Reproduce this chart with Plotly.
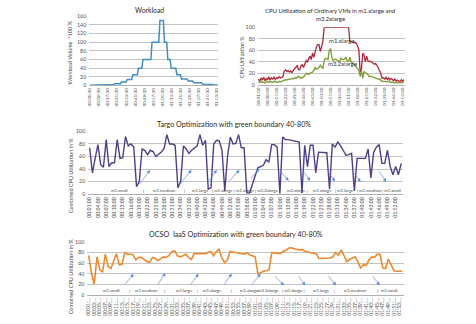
import plotly.graph_objects as go

FONT = "Lato"

times = [f"{m // 60:02d}:{m % 60:02d}:00" for m in range(1, 115)]

workload = [0.5, 0.5, 0.5, 0.5, 0.5, 0.5, 0.5,
            1, 1, 1, 1, 1, 1, 1, 1,
            2, 2, 2, 2, 2, 2, 2,
            4, 4, 4, 4, 4, 4,
            8, 8, 8, 8, 8,
            14, 14, 14, 14, 14,
            25, 25, 25, 25, 25,
            40, 40, 40, 40,
            60, 60, 60, 60, 60, 60, 60, 60,
            100, 100, 100, 100, 100, 100, 100,
            150, 150, 150, 150,
            100, 100, 100,
            60, 60, 60,
            40, 40, 40, 40, 40,
            25, 25, 25, 25,
            15, 15, 15, 15, 15, 15,
            10, 10, 10, 10, 10,
            6, 6, 6, 6, 6, 6, 6, 6,
            3, 3, 3, 3, 3,
            2, 2, 2, 2,
            1, 1, 1, 1, 1]

cpu_m1_xlarge = [10, 6, 12, 8, 13, 7, 11, 9, 14, 8, 12, 10, 13, 9, 12, 11, 14, 12, 13, 14,
                 24, 26, 23, 25, 22, 24, 21, 26,
                 28, 30, 34, 27, 26, 33, 35, 30,
                 38, 42, 40, 46, 50, 44, 55, 48,
                 58, 66, 70, 70, 58, 70, 75,
                 100, 100, 100, 100, 100, 100, 100, 100, 100, 100,
                 100, 100, 100, 100, 100, 100, 100, 100, 100, 100,
                 76, 75, 75, 73, 74, 72, 68, 60,
                 22, 28, 55, 52, 40, 50, 42, 40, 41, 40, 38, 36, 37, 34, 30, 24, 20,
                 11, 12, 10, 13, 9, 12, 8, 11, 9, 7, 10, 6, 8, 7, 5, 9, 6, 9]

cpu_m3_2xlarge = [5, 4, 6, 4, 5, 3, 6, 5, 4, 6, 5, 4, 6, 5, 5, 4, 6, 5, 6, 7,
                  8, 9, 8, 10, 9, 10, 11, 10, 12, 11,
                  13, 15, 12, 13, 12, 14,
                  16, 20, 19, 18, 20, 21, 22, 25,
                  30, 27, 28, 30, 34, 30, 28,
                  42, 46, 45, 44, 60, 63, 48,
                  42, 44, 45, 43, 41, 40, 46, 44, 44, 45, 48, 41,
                  41, 48, 40, 38, 37, 34, 31, 28,
                  25, 14, 25, 11, 23, 21, 20,
                  18, 14, 15, 14, 13, 12, 11, 11, 10, 10, 8, 6,
                  6, 6, 5, 6, 5, 5, 4, 5, 4, 3, 4, 3, 3, 4, 3, 4, 4]

targo = [74, 34, 57, 79, 47, 43, 87, 44, 50, 50, 87, 57, 58, 92, 77, 80, 75, 12, 20, 72,
         70, 63, 70, 68, 60, 64, 67, 73, 95, 80, 80, 78, 10, 20, 77, 72, 65, 70, 74, 77,
         95, 78, 86, 8, 10, 80, 86, 85, 70, 5, 60, 91, 80, 81, 95, 74, 74, 2, 2, 15,
         30, 42, 44, 46, 55, 51, 79, 79, 75, 1, 91, 87, 87, 86, 84, 83, 83, 2, 78, 44,
         78, 78, 34, 67, 67, 67, 66, 8, 80, 75, 83, 77, 70, 62, 63, 65, 5, 57, 57, 57,
         57, 72, 26, 67, 75, 79, 49, 49, 70, 44, 31, 44, 31, 49]

ocso = [75, 42, 21, 72, 48, 43, 77, 54, 50, 63, 78, 57, 58, 80, 77, 77, 76, 66, 71, 71,
        67, 63, 62, 71, 69, 65, 69, 72, 71, 75, 82, 83, 74, 72, 74, 77, 71, 67, 78, 78,
        78, 78, 78, 80, 82, 74, 82, 86, 70, 61, 66, 82, 81, 80, 80, 78, 77, 80, 76, 74,
        72, 40, 43, 45, 46, 48, 80, 80, 79, 78, 82, 84, 88, 89, 87, 86, 85, 86, 82, 81,
        80, 79, 78, 69, 69, 69, 69, 70, 72, 80, 75, 85, 75, 63, 67, 70, 72, 63, 51, 57,
        56, 66, 72, 71, 77, 77, 51, 50, 68, 57, 46, 45, 45, 45]

wl_ticks = times[0::8]
cpu_ticks = times[0::7]
targo_ticks = times[0::3]
ocso_ticks = times[0::2]
ocso_ticktext = [t[:6] + "..." for t in ocso_ticks]

targo_labels = ["m1.small", "|", "m1.medium", "|", "m1.large", "| m1.xlarge |", "m1.xlarge",
                "| m3.2xlarge |", "m3.xlarge |", "m1.xlarge", "| m1.large", "| m1.medium", "| m1.small"]
targo_label_x = [10.9, 19.6, 27.2, 34.4, 40.3, 48.5, 56.5, 64.5, 75.5, 84.5, 92.5, 101.5, 109.5]

ocso_labels = ["m1.small", "|", "m1.medium", "|", "m1.large", "|", "m1.xlarge", "|", "m1.xlarge",
               "|m3.2xlarge", "| m1.xlarge |", "m1.large", "|", "m1.medium", "|", "m1.small"]
ocso_label_x = [8.4, 14.8, 20.9, 27.5, 34.5, 39.4, 44.8, 51.4, 57.9, 64.9, 73.9, 83.9, 88.6, 96.3, 104.1, 108.3]

# arrows: (tail_x, tail_y, head_x, head_y) in category index / %
targo_arrows = [(17.7, 13.6, 21.9, 38.6), (32.1, 12.5, 36.9, 38.6), (42.3, 15, 46.1, 38.6),
                (50.1, 18, 54.3, 38.6), (57.9, 23, 61.5, 40),
                (68.6, 38.6, 72.2, 21.4), (77.1, 38.6, 80.0, 21.4), (86.0, 38.6, 89.0, 20.3),
                (95.0, 38.6, 98.3, 19.4), (104.6, 38.6, 107.6, 19.4)]
ocso_arrows = [(12.6, 17.3, 16.2, 39.9), (24.5, 17.3, 27.7, 41.7), (36.4, 17.3, 39.6, 40.4),
               (48.4, 17.3, 51.6, 40.4), (58.5, 18.4, 62.0, 40.4),
               (66.6, 38.6, 70.4, 18.4), (75.2, 38.6, 78.1, 18.4), (85.9, 38.6, 89.2, 18.4),
               (101.9, 38.6, 104.9, 18.4)]

W, H = 476, 324


def px_x(x0, x1):
    return [x0 / W, x1 / W]


def px_y(top, bottom):
    return [1 - bottom / H, 1 - top / H]


GRID = "#c4c4c4"
TXT = "#505050"

fig = go.Figure()
fig.add_trace(go.Scatter(x=times, y=workload, mode="lines", line=dict(color="#3f8fc2", width=1.5),
                         xaxis="x", yaxis="y"))
fig.add_trace(go.Scatter(x=times, y=cpu_m1_xlarge, mode="lines", line=dict(color="#b0283a", width=1.3),
                         xaxis="x2", yaxis="y2"))
fig.add_trace(go.Scatter(x=times, y=cpu_m3_2xlarge, mode="lines", line=dict(color="#7e9c32", width=1.3),
                         xaxis="x2", yaxis="y2"))
fig.add_trace(go.Scatter(x=times, y=targo, mode="lines", line=dict(color="#4e3f88", width=1.4),
                         xaxis="x3", yaxis="y3"))
fig.add_trace(go.Scatter(x=times, y=ocso, mode="lines", line=dict(color="#ec8a2c", width=1.6),
                         xaxis="x4", yaxis="y4"))


def xax(domain, anchor, ticks, text, size):
    return dict(domain=domain, anchor=anchor, type="category", categoryorder="array", categoryarray=times,
                range=[-0.5, len(times) - 0.5], tickmode="array", tickvals=ticks, ticktext=text,
                tickangle=-90, tickfont=dict(size=size, color=TXT, family=FONT), showgrid=False,
                showline=True, linecolor="#b0b0b0", linewidth=1, ticks="", zeroline=False, fixedrange=True)


def yax(domain, anchor, top, dtick, size):
    return dict(domain=domain, anchor=anchor, range=[0, top * 1.003], dtick=dtick, showgrid=True,
                gridcolor=GRID, gridwidth=1, tickfont=dict(size=size, color=TXT, family=FONT),
                zeroline=False, showline=False, ticks="", ticklabelstandoff=2)


fig.update_layout(
    width=W, height=H, margin=dict(l=0, r=0, t=0, b=0), paper_bgcolor="white", plot_bgcolor="white",
    showlegend=False, font=dict(family=FONT, color=TXT),
    xaxis=xax(px_x(87, 217), "y", wl_ticks, wl_ticks, 4.6),
    yaxis=yax(px_y(13.3, 84), "x", 160, 20, 5.3),
    xaxis2=xax(px_x(257, 405), "y2", cpu_ticks, cpu_ticks, 4.6),
    yaxis2=yax(px_y(24.7, 83.3), "x2", 100, 20, 5.3),
    xaxis3=xax(px_x(86, 403), "y3", targo_ticks, targo_ticks, 5.2),
    yaxis3=yax(px_y(130.7, 194.7), "x3", 100, 20, 5.3),
    xaxis4=xax(px_x(85, 404), "y4", ocso_ticks, ocso_ticktext, 5.0),
    yaxis4=yax(px_y(243.3, 297.7), "x4", 100, 20, 5.3),
)

ann = []


def paper_text(text, x, y, size, angle=0, color="#2a2a2a"):
    ann.append(dict(text=text, x=x / W, y=1 - y / H, xref="paper", yref="paper", showarrow=False,
                    font=dict(size=size, color=color, family=FONT), textangle=angle,
                    xanchor="center", yanchor="middle"))


paper_text("Workload", 148, 6.7, 6.8)
paper_text("CPU Utilization of Ordinary VMs in m1.xlarge and", 330, 7.3, 6)
paper_text("m3.2xlarge", 330, 15.7, 6)
paper_text("Targo Optimization with green boundary 40-80%", 233, 124, 7.2)
paper_text("OCSO  IaaS Optimization with green boundary 40-80%", 235, 236, 7.2)
paper_text("Workload Volume  *100 %", 68, 50, 5.5, -90, "#444444")
paper_text("CPU Utilization %", 241, 55, 5.3, -90, "#444444")
paper_text("Combined CPU Utilization in %", 68, 175, 5.5, -90, "#444444")
paper_text("Combined CPU Utilization in %", 68, 278, 5.5, -90, "#444444")

for t, x, y in [("m1.xlarge", 65, 78), ("m3.2xlarge", 65, 37)]:
    ann.append(dict(text=t, x=x, y=y, xref="x2", yref="y2", showarrow=False,
                    font=dict(size=6, color="#333333", family=FONT)))

for t, x in zip(targo_labels, targo_label_x):
    ann.append(dict(text=t, x=x, y=6, xref="x3", yref="y3", showarrow=False,
                    font=dict(size=4.3, color="#444444", family=FONT)))
for t, x in zip(ocso_labels, ocso_label_x):
    ann.append(dict(text=t, x=x, y=9, xref="x4", yref="y4", showarrow=False,
                    font=dict(size=4.3, color="#444444", family=FONT)))

for (tx, ty, hx, hy) in targo_arrows:
    ann.append(dict(x=hx, y=hy, ax=tx, ay=ty, xref="x3", yref="y3", axref="x3", ayref="y3",
                    showarrow=True, arrowhead=2, arrowsize=1, arrowwidth=0.7, arrowcolor="#5a8fd8", text=""))
for (tx, ty, hx, hy) in ocso_arrows:
    ann.append(dict(x=hx, y=hy, ax=tx, ay=ty, xref="x4", yref="y4", axref="x4", ayref="y4",
                    showarrow=True, arrowhead=2, arrowsize=1, arrowwidth=0.7, arrowcolor="#5a8fd8", text=""))

fig.update_layout(annotations=ann)
fig.write_html("out.html")
